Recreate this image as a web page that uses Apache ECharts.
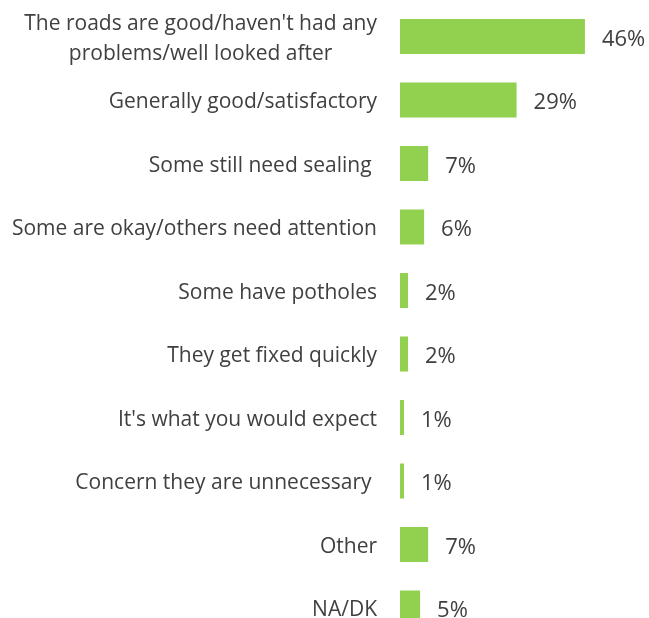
<!DOCTYPE html>
<html><head><meta charset="utf-8">
<script src="https://cdn.jsdelivr.net/npm/echarts@6/dist/echarts.min.js"></script>
<style>html,body{margin:0;padding:0;background:#fff}#c{width:649px;height:618px}</style>
</head><body><div id="c"></div>
<script>
const categories = [
  "The roads are good/haven't had any\nproblems/well looked after",
  "Generally good/satisfactory",
  "Some still need sealing ",
  "Some are okay/others need attention",
  "Some have potholes",
  "They get fixed quickly",
  "It's what you would expect",
  "Concern they are unnecessary ",
  "Other",
  "NA/DK"
];
const values = [46, 29, 7, 6, 2, 2, 1, 1, 7, 5];

const chart = echarts.init(document.getElementById('c'), null, {renderer: 'canvas'});
chart.setOption({
  animation: false,
  backgroundColor: '#fff',
  grid: {left: 400, width: 201, top: 4.75, height: 635, containLabel: false, outerBoundsMode: 'none'},
  xAxis: {type: 'value', min: 0, max: 50, show: false},
  yAxis: {
    type: 'category', inverse: true, data: categories,
    axisLine: {show: false}, axisTick: {show: false}, splitLine: {show: false},
    axisLabel: {
      margin: 23, color: '#404040', fontFamily: 'Open Sans', fontSize: 21, lineHeight: 30,
      padding: [5, 0, 0, 0],
      formatter: function (v) { return v.split('\n').map(s => '{c|' + s + '}').join('\n'); },
      rich: {c: {align: 'center', color: '#404040', fontFamily: 'Open Sans', fontSize: 21, lineHeight: 30}}
    }
  },
  series: [{
    type: 'bar', data: values, barWidth: 35,
    itemStyle: {color: '#92D050'},
    label: {show: true, position: 'right', distance: 17, offset: [0, 3], formatter: '{c}%', color: '#404040', fontFamily: 'Open Sans', fontSize: 22}
  }]
});
</script></body></html>
